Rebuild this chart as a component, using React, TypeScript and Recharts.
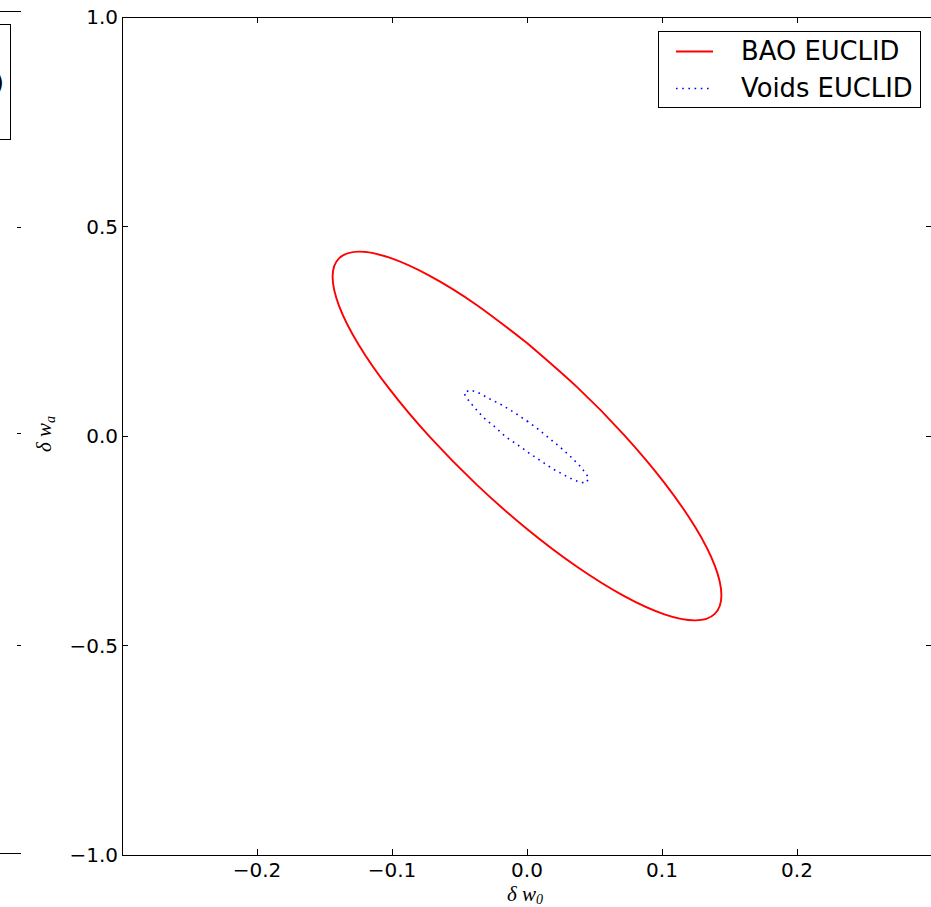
import React from 'react';
import { LineChart, Line, XAxis, YAxis, Legend } from 'recharts';

// ---- data ----
const seriesNames = ['BAO EUCLID', 'Voids EUCLID'];
const xTicks = [-0.2, -0.1, 0.0, 0.1, 0.2];
const yTicks = [-1.0, -0.5, 0.0, 0.5, 1.0];
const xDomain = [-0.3, 0.3];
const yDomain = [-1.0, 1.0];

// BAO EUCLID contour (delta w0, delta wa), read points along the curve
const baoW0 = [
  0.0, -0.0373, -0.072, -0.1018, -0.1247, -0.1391, -0.144, -0.1391, -0.1247, -0.1018,
  -0.072, -0.0373, 0.0, 0.0373, 0.072, 0.1018, 0.1247, 0.1391, 0.144, 0.1391, 0.1247,
  0.1018, 0.072, 0.0373, 0.0,
];
const baoWa = [
  0.222, 0.3128, 0.3822, 0.4256, 0.44, 0.4244, 0.38, 0.3095, 0.218, 0.1117,
  -0.0023, -0.1161, -0.222, -0.3128, -0.3822, -0.4256, -0.44, -0.4244, -0.38, -0.3095,
  -0.218, -0.1117, 0.0023, 0.1161, 0.222,
];

// Voids EUCLID contour (delta w0, delta wa)
const voidsW0 = [
  0.0, 0.0081, 0.0163, 0.0244, 0.0326, 0.04, 0.0459, 0.0437, 0.0385, 0.0333, 0.0289,
  0.0193, 0.0104, 0.0015, -0.0067, -0.0156, -0.0237, -0.0319, -0.0393, -0.0452,
  -0.0467, -0.0422, -0.037, -0.0274, -0.0185, -0.0089, 0.0,
];
const voidsWa = [
  0.0358, 0.0167, -0.0048, -0.0263, -0.0501, -0.074, -0.1002, -0.1122, -0.1098, -0.1026,
  -0.0955, -0.0788, -0.0597, -0.0406, -0.0215, -0.0024, 0.0215, 0.043, 0.0692, 0.0931,
  0.1026, 0.1098, 0.105, 0.0883, 0.074, 0.0549, 0.0358,
];

const baoData = baoW0.map((x, i) => ({ x, y: baoWa[i] }));
const voidsData = voidsW0.map((x, i) => ({ x, y: voidsWa[i] }));

const fmt = (v: number) => (v < 0 ? '\u2212' : '') + Math.abs(v).toFixed(1);

const FONT = 'DejaVu Sans, sans-serif';
const AXIS_LINE = { stroke: '#000', strokeWidth: 1, shapeRendering: 'crispEdges' } as any;

const BottomTick = (props: any) => {
  const { x, y, payload } = props;
  return (
    <g>
      <line x1={x} x2={x} y1={y} y2={y - 6} stroke="#000" strokeWidth={1} shapeRendering="crispEdges" />
      <text x={x} y={y + 22} textAnchor="middle" fontSize={20} fontFamily={FONT} fill="#000">
        {fmt(payload.value)}
      </text>
    </g>
  );
};

const TopTick = (props: any) => {
  const { x, y } = props;
  return <line x1={x} x2={x} y1={y} y2={y + 6} stroke="#000" strokeWidth={1} shapeRendering="crispEdges" />;
};

const LeftTick = (props: any) => {
  const { x, y, payload } = props;
  return (
    <g>
      <line x1={x} x2={x + 6} y1={y} y2={y} stroke="#000" strokeWidth={1} shapeRendering="crispEdges" />
      <text x={x - 4} y={y + 7} textAnchor="end" fontSize={20} fontFamily={FONT} fill="#000">
        {fmt(payload.value)}
      </text>
    </g>
  );
};

const RightTick = (props: any) => {
  const { x, y } = props;
  return <line x1={x} x2={x - 6} y1={y} y2={y} stroke="#000" strokeWidth={1} shapeRendering="crispEdges" />;
};

const XLabel = (props: any) => {
  const vb = props.viewBox || { x: 122, y: 855, width: 810 };
  const cx = vb.x + vb.width / 2 - 2;
  return (
    <text x={cx} y={vb.y + 46} textAnchor="middle" fontFamily="Liberation Serif, serif" fontStyle="italic" fontSize={21} fill="#000">
      δ w<tspan fontSize={14} dy={3}>0</tspan>
    </text>
  );
};

const YLabel = () => {
  return (
    <text x={51} y={434} textAnchor="middle" transform="rotate(-90, 51, 434)" fontFamily="Liberation Serif, serif" fontStyle="italic" fontSize={21} fill="#000">
      δ w<tspan fontSize={14} dy={4}>a</tspan>
    </text>
  );
};

const renderLegend = (props: any) => {
  const payload = (props.payload || []).filter(
    (e: any) => e.type !== 'none' && seriesNames.indexOf(e.value) >= 0
  );
  return (
    <div
      style={{
        position: 'relative',
        width: 263,
        height: 77,
        border: '1px solid #000',
        boxSizing: 'border-box',
        background: '#fff',
        fontFamily: FONT,
        fontSize: 25.8,
        color: '#000',
      }}
    >
      {payload.map((entry: any, i: number) => {
        const dotted = entry.value === seriesNames[1];
        return (
          <div key={i} style={{ position: 'absolute', left: 0, top: i === 0 ? 0.5 : 37.5, width: '100%', height: 37 }}>
            <svg style={{ position: 'absolute', left: 17, top: 0 }} width={38} height={37}>
              <line
                x1={0}
                x2={37}
                y1={18.5}
                y2={18.5}
                stroke={entry.color}
                strokeWidth={dotted ? 1.6 : 2}
                strokeDasharray={dotted ? '1.6 4.6' : undefined}
              />
            </svg>
            <span style={{ position: 'absolute', left: 82, top: 0, lineHeight: '37px', whiteSpace: 'nowrap' }}>
              {entry.value}
            </span>
          </div>
        );
      })}
    </div>
  );
};

const LeftFragment = () => (
  <svg width={40} height={907} style={{ position: 'absolute', left: 0, top: 0 }}>
    <line x1={0} x2={21} y1={11} y2={11} stroke="#000" strokeWidth={1} shapeRendering="crispEdges" />
    <rect x={-12} y={24} width={22.5} height={115} fill="none" stroke="#000" strokeWidth={1} shapeRendering="crispEdges" />
    <text x={4} y={91} textAnchor="end" fontFamily={FONT} fontSize={25} fill="#000">)</text>
    <line x1={17} x2={21} y1={227} y2={227} stroke="#000" strokeWidth={1} shapeRendering="crispEdges" />
    <line x1={17} x2={21} y1={433} y2={433} stroke="#000" strokeWidth={1} shapeRendering="crispEdges" />
    <line x1={17} x2={21} y1={645} y2={645} stroke="#000" strokeWidth={1} shapeRendering="crispEdges" />
    <line x1={0} x2={21} y1={853} y2={853} stroke="#000" strokeWidth={1} shapeRendering="crispEdges" />
  </svg>
);

export default function App() {
  return (
    <div style={{ position: 'absolute', left: 0, top: 0, width: 931, height: 907, overflow: 'hidden', background: '#fff' }}>
      <LeftFragment />
      <div style={{ position: 'absolute', left: 0, top: 0 }}>
        <LineChart width={940} height={907} margin={{ top: 16, right: 7, bottom: 0, left: 0 }}>
          <XAxis
            type="number"
            dataKey="x"
            domain={xDomain}
            ticks={xTicks}
            interval={0}
            allowDataOverflow
            height={52}
            tickSize={0}
            tickMargin={0}
            tickLine={false}
            tick={<BottomTick />}
            axisLine={AXIS_LINE}
            label={<XLabel />}
          />
          <XAxis
            xAxisId="top"
            orientation="top"
            type="number"
            dataKey="x"
            domain={xDomain}
            ticks={xTicks}
            interval={0}
            allowDataOverflow
            height={1}
            tickSize={0}
            tickMargin={0}
            tickLine={false}
            tick={<TopTick />}
            axisLine={AXIS_LINE}
          />
          <YAxis
            type="number"
            dataKey="y"
            domain={yDomain}
            ticks={yTicks}
            interval={0}
            allowDataOverflow
            width={122}
            tickSize={0}
            tickMargin={0}
            tickLine={false}
            tick={<LeftTick />}
            axisLine={AXIS_LINE}
            label={<YLabel />}
          />
          <YAxis
            yAxisId="right"
            orientation="right"
            type="number"
            dataKey="y"
            domain={yDomain}
            ticks={yTicks}
            interval={0}
            allowDataOverflow
            width={1}
            tickSize={0}
            tickMargin={0}
            tickLine={false}
            tick={<RightTick />}
            axisLine={AXIS_LINE}
          />
          <Line
            data={baoData}
            dataKey="y"
            name={seriesNames[0]}
            type="natural"
            stroke="#ff0000"
            strokeWidth={1.9}
            dot={false}
            activeDot={false}
            isAnimationActive={false}
          />
          <Line
            data={voidsData}
            dataKey="y"
            name={seriesNames[1]}
            type="linear"
            stroke="#0000ff"
            strokeWidth={1.6}
            strokeDasharray="1.6 4.6"
            dot={false}
            activeDot={false}
            isAnimationActive={false}
          />
          {/* invisible series so the top and right frame axes are drawn */}
          <Line
            xAxisId="top"
            yAxisId="right"
            data={baoData}
            dataKey="y"
            name="frame"
            stroke="transparent"
            strokeWidth={0}
            legendType="none"
            dot={false}
            activeDot={false}
            isAnimationActive={false}
          />
          <Legend
            layout="vertical"
            align="center"
            verticalAlign="middle"
            content={renderLegend}
            wrapperStyle={{ position: 'absolute', left: 658, top: 31, width: 263, height: 77 }}
          />
        </LineChart>
      </div>
    </div>
  );
}
